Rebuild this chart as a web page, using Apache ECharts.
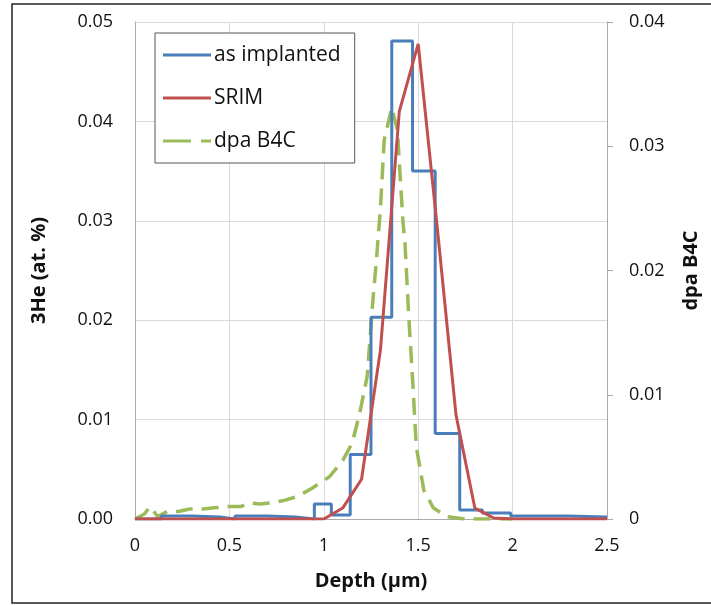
<!DOCTYPE html>
<html>
<head>
<meta charset="utf-8">
<script src="https://cdn.jsdelivr.net/npm/echarts@6/dist/echarts.min.js"></script>
<style>
html,body{margin:0;padding:0;background:#fff;}
#c{width:711px;height:605px;}
</style>
</head>
<body>
<div id="c"></div>
<script>
// as implanted: histogram bin edges (µm) and values (at. %)
var implEdges = [0, 0.14, 0.30, 0.45, 0.53, 0.70, 0.85, 0.95, 1.04, 1.14, 1.25, 1.36, 1.47, 1.59, 1.72, 1.84, 1.99, 2.29, 2.50];
var implValues = [0.0000, 0.0003, 0.0002, 0.0000, 0.0003, 0.0002, 0.0000, 0.0015, 0.0004, 0.0065, 0.0203, 0.0481, 0.0350, 0.0086, 0.0009, 0.0006, 0.0003, 0.0002];

// SRIM
var srimX = [0, 0.5, 1.0, 1.1, 1.2, 1.3, 1.4, 1.5, 1.6, 1.7, 1.8, 1.9, 2.0, 2.5];
var srimY = [0, 0, 0, 0.0011, 0.0040, 0.0170, 0.0410, 0.0478, 0.0295, 0.0105, 0.0011, 0.0001, 0, 0];

// dpa B4C (right axis)
var dpaX = [0.00, 0.01, 0.05, 0.08, 0.12, 0.17, 0.23, 0.29, 0.36, 0.42, 0.49, 0.56, 0.61, 0.66, 0.72, 0.79, 0.86, 0.94, 1.03, 1.10, 1.15, 1.19, 1.23, 1.26, 1.28, 1.30, 1.32, 1.36, 1.39, 1.40, 1.42, 1.43, 1.45, 1.47, 1.49, 1.53, 1.58, 1.65, 1.75, 1.85, 2.00];
var dpaY = [0.0000, 0.0000, 0.0004, 0.0010, 0.0002, 0.0006, 0.0006, 0.0008, 0.0008, 0.0009, 0.0010, 0.0010, 0.0013, 0.0012, 0.0013, 0.0015, 0.0018, 0.0025, 0.0034, 0.0047, 0.0061, 0.0085, 0.0115, 0.0176, 0.0211, 0.0250, 0.0305, 0.0331, 0.0313, 0.0287, 0.0238, 0.0222, 0.0163, 0.0113, 0.0058, 0.0023, 0.0009, 0.0002, 0.0000, 0.0000, 0.0000];

var implData = [];
for (var i = 0; i < implValues.length; i++) implData.push([implEdges[i], implValues[i]]);
implData.push([implEdges[implEdges.length - 1], implValues[implValues.length - 1]]);
var srimData = srimX.map(function (x, i) { return [x, srimY[i]]; });
var dpaData = dpaX.map(function (x, i) { return [x, dpaY[i]]; });

var SOLID = 'path://M0,0 L48,0 L48,3 L0,3 Z';
var DASHED = 'path://M0,0 L28,0 L28,3 L0,3 Z M38,0 L48,0 L48,3 L38,3 Z';

var FONT = '"Open Sans", "Liberation Sans", sans-serif';
var chart = echarts.init(document.getElementById('c'));
chart.setOption({
  animation: false,
  backgroundColor: '#fff',
  textStyle: { fontFamily: FONT },
  graphic: [{
    type: 'rect', shape: { x: 12, y: 4, width: 720, height: 599 },
    style: { fill: 'none', stroke: '#222', lineWidth: 1.5 }, z: -10
  }],
  grid: { left: 135, right: 104, top: 22, bottom: 86 },
  legend: {
    orient: 'vertical', left: 155, top: 33,
    padding: [7, 14, 7, 8], itemGap: 13,
    itemWidth: 48, itemHeight: 3,
    borderColor: '#555', borderWidth: 1, backgroundColor: '#fff',
    textStyle: { fontSize: 21, lineHeight: 30, color: '#111', fontFamily: FONT, padding: [0, 0, 0, -2] },
    data: [
      { name: 'as implanted', icon: SOLID },
      { name: 'SRIM', icon: SOLID },
      { name: 'dpa B4C', icon: DASHED }
    ]
  },
  xAxis: {
    type: 'value', min: 0, max: 2.5, interval: 0.5,
    name: 'Depth (μm)', nameLocation: 'middle', nameGap: 52,
    nameTextStyle: { fontSize: 20, fontWeight: 'bold', color: '#111', fontFamily: FONT },
    axisLine: { show: true, lineStyle: { color: '#aaa', width: 1 } },
    axisTick: { show: false },
    axisLabel: { fontSize: 18, color: '#111', margin: 18, formatter: function (v) { return String(v); } },
    splitLine: { show: true, lineStyle: { color: '#d9d9d9', width: 1 } }
  },
  yAxis: [{
    type: 'value', min: 0, max: 0.05, interval: 0.01,
    name: '3He (at. %)', nameLocation: 'middle', nameGap: 86, nameRotate: 90,
    nameTextStyle: { fontSize: 20, fontWeight: 'bold', color: '#111', fontFamily: FONT },
    axisLine: { show: true, lineStyle: { color: '#aaa', width: 1 } },
    axisTick: { show: false },
    axisLabel: { fontSize: 18, color: '#111', margin: 22, formatter: function (v) { return v.toFixed(2); } },
    splitLine: { show: true, lineStyle: { color: '#d9d9d9', width: 1 } }
  }, {
    type: 'value', min: 0, max: 0.04, interval: 0.01, position: 'right',
    name: 'dpa B4C', nameLocation: 'middle', nameGap: 74, nameRotate: 90,
    nameTextStyle: { fontSize: 20, fontWeight: 'bold', color: '#111', fontFamily: FONT },
    axisLine: { show: true, lineStyle: { color: '#aaa', width: 1 } },
    axisTick: { show: true, inside: false, length: 6, lineStyle: { color: '#aaa' } },
    axisLabel: { fontSize: 18, color: '#111', margin: 22, formatter: function (v) { return v === 0 ? '0' : v.toFixed(2); } },
    splitLine: { show: false }
  }],
  series: [{
    name: 'dpa B4C', type: 'line', yAxisIndex: 1, data: dpaData,
    showSymbol: false, symbol: 'none', z: 2,
    lineStyle: { color: '#9BBB59', width: 3.5, type: [17, 9] },
    itemStyle: { color: '#9BBB59' }
  }, {
    name: 'as implanted', type: 'line', data: implData, step: 'end',
    showSymbol: false, symbol: 'none', z: 3,
    lineStyle: { color: '#4A7EBB', width: 3 },
    itemStyle: { color: '#4A7EBB' }
  }, {
    name: 'SRIM', type: 'line', data: srimData,
    showSymbol: false, symbol: 'none', z: 4,
    lineStyle: { color: '#C0504D', width: 3 },
    itemStyle: { color: '#C0504D' }
  }]
});
</script>
</body>
</html>
